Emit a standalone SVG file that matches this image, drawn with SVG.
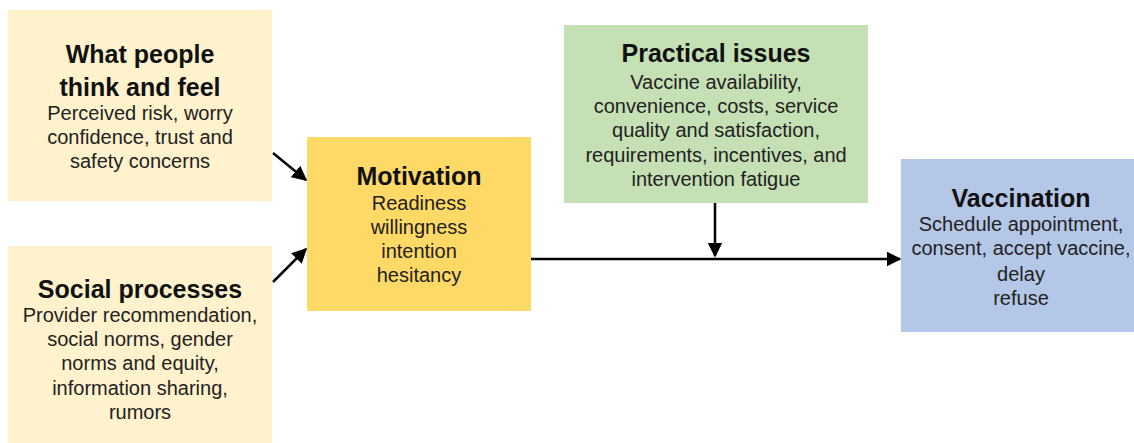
<svg xmlns="http://www.w3.org/2000/svg" width="1134" height="443" viewBox="0 0 1134 443">
<defs>
<style>
.t{font-family:"Liberation Sans",Arial,sans-serif;font-weight:bold;font-size:25px;fill:#111;text-anchor:middle}
.b{font-family:"Liberation Sans",Arial,sans-serif;font-size:20px;fill:#222;text-anchor:middle}
.c{stroke:#000;stroke-width:2.5;fill:none}
</style>
<marker id="ah" viewBox="0 0 10 10" refX="9" refY="5" markerWidth="6" markerHeight="6" orient="auto" markerUnits="strokeWidth">
<path d="M0,0 L10,5 L0,10 Z" fill="#000"/>
</marker>
</defs>
<rect width="1134" height="443" fill="#fff"/>
<g id="think">
<rect x="8" y="10" width="264" height="191" fill="#fff2cc"/>
<text class="t" x="140" y="63">What people</text>
<text class="t" x="140" y="96">think and feel</text>
<text class="b" x="140" y="120">Perceived risk, worry</text>
<text class="b" x="140" y="144">confidence, trust and</text>
<text class="b" x="140" y="168">safety concerns</text>
</g>
<g id="social">
<rect x="8" y="246" width="264" height="197" fill="#fff2cc"/>
<text class="t" x="140" y="298">Social processes</text>
<text class="b" x="140" y="322">Provider recommendation,</text>
<text class="b" x="140" y="346">social norms, gender</text>
<text class="b" x="140" y="370">norms and equity,</text>
<text class="b" x="140" y="395">information sharing,</text>
<text class="b" x="140" y="419">rumors</text>
</g>
<g id="motivation">
<rect x="307" y="137" width="224" height="174" fill="#ffd966"/>
<text class="t" x="419" y="185">Motivation</text>
<text class="b" x="419" y="210">Readiness</text>
<text class="b" x="419" y="234">willingness</text>
<text class="b" x="419" y="258">intention</text>
<text class="b" x="419" y="282">hesitancy</text>
</g>
<g id="practical">
<rect x="564" y="25" width="304" height="178" fill="#c5e0b4"/>
<text class="t" x="716" y="62">Practical issues</text>
<text class="b" x="716" y="89">Vaccine availability,</text>
<text class="b" x="716" y="113">convenience, costs, service</text>
<text class="b" x="716" y="137">quality and satisfaction,</text>
<text class="b" x="716" y="162">requirements, incentives, and</text>
<text class="b" x="716" y="186">intervention fatigue</text>
</g>
<g id="vaccination">
<rect x="901" y="159" width="240" height="173" fill="#b4c7e7"/>
<text class="t" x="1021" y="207">Vaccination</text>
<text class="b" x="1021" y="231">Schedule appointment,</text>
<text class="b" x="1021" y="255">consent, accept vaccine,</text>
<text class="b" x="1021" y="281">delay</text>
<text class="b" x="1021" y="305">refuse</text>
</g>
<g id="connectors">
<line class="c" x1="273" y1="153" x2="306" y2="180" marker-end="url(#ah)"/>
<line class="c" x1="273" y1="282" x2="306" y2="249" marker-end="url(#ah)"/>
<line class="c" x1="531" y1="259" x2="900" y2="259" marker-end="url(#ah)"/>
<line class="c" x1="715" y1="203" x2="715" y2="256" marker-end="url(#ah)"/>
</g>
</svg>
